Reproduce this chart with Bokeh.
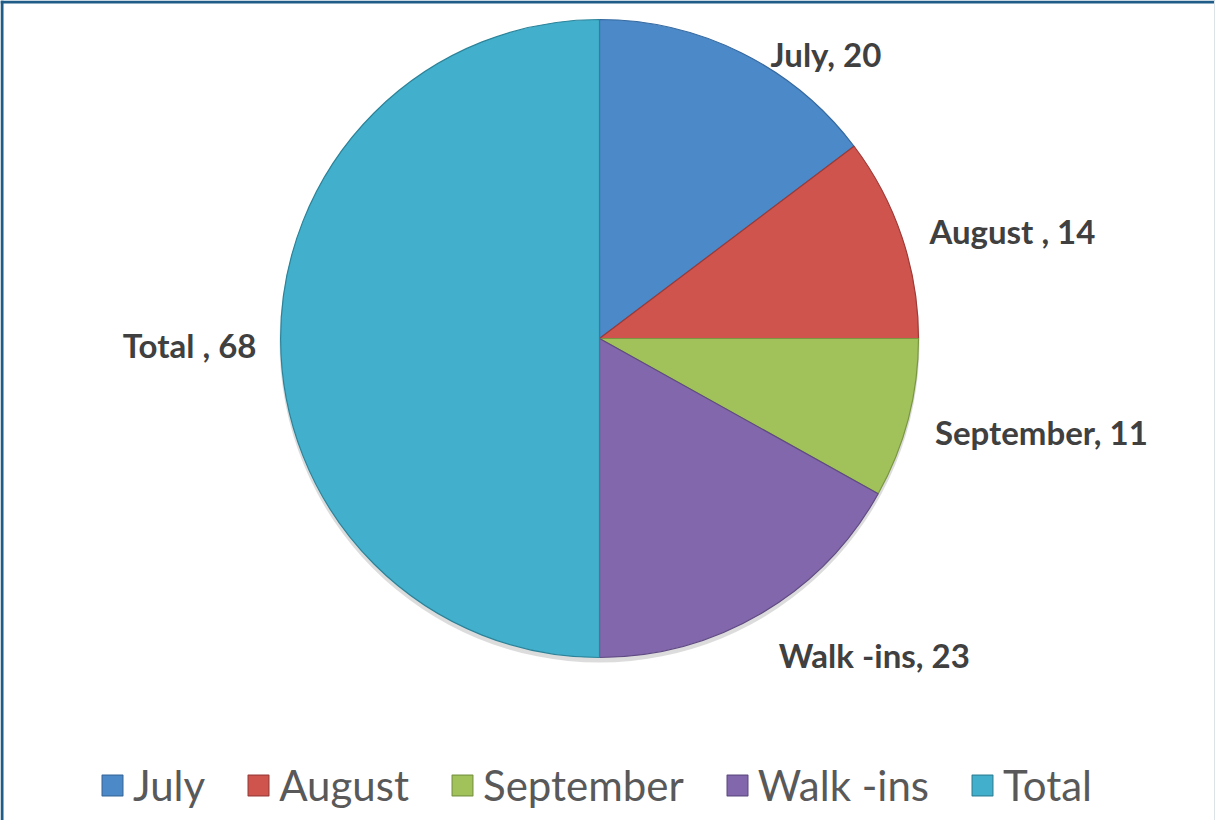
import numpy as np
from bokeh.plotting import figure
from bokeh.models import Range1d, Legend, LegendItem, Span, ColumnDataSource
from bokeh.core.properties import value
from bokeh.embed import file_html
from bokeh.resources import INLINE

# ---- data ----
categories = ["July", "August", "September", "Walk -ins", "Total"]
counts = [20, 14, 11, 23, 68]
label_texts = ["July, 20", "August , 14", "September, 11", "Walk -ins, 23", "Total , 68"]

# ---- styles ----
colors = ["#4C89C8", "#CF544E", "#A1C25B", "#8367AC", "#42B0CC"]
edge_colors = ["#35699F", "#9E3A36", "#7A9640", "#5F4A82", "#2C8399"]
lab_x_off = [24, 17, 16, 12, -13]
lab_y_off = [11, -3, 11, 32, 6]
lab_align = ["left", "left", "left", "left", "right"]

W, H = 1215, 820
p = figure(width=W, height=H, x_range=Range1d(0, W), y_range=Range1d(0, H),
           output_backend="svg", toolbar_location=None, min_border=0)
p.axis.visible = False
p.grid.visible = False
p.outline_line_color = None
p.background_fill_color = "white"
p.border_fill_color = "white"

cx, cy, R = 599, 482, 319
total = sum(counts)
cum = np.cumsum([0] + counts)
start = np.pi / 2 - 2 * np.pi * cum[:-1] / total
end = np.pi / 2 - 2 * np.pi * cum[1:] / total
mid = (start + end) / 2

# soft shadow
p.circle(x=[cx], y=[cy - 4], radius=R + 1, fill_color="#9A9A9A", fill_alpha=0.35, line_color=None)

src = ColumnDataSource(dict(cat=categories, val=counts, start=start, end=end,
                            color=colors, edge=edge_colors))
wr = p.wedge(x=cx, y=cy, radius=R, start_angle="start", end_angle="end", direction="clock",
             fill_color="color", line_color="edge", line_width=1.2, source=src)

lsrc = ColumnDataSource(dict(
    x=cx + (R + 11) * np.cos(mid), y=cy + (R + 11) * np.sin(mid),
    text=label_texts, xo=lab_x_off, yo=lab_y_off, align=lab_align))
p.text(x="x", y="y", text="text", x_offset="xo", y_offset="yo", text_align="align",
       text_baseline="middle", text_font=value("Lato"), text_font_style="bold",
       text_font_size="33px", text_color="#404040", source=lsrc)

items = [LegendItem(label=c, renderers=[wr], index=i) for i, c in enumerate(categories)]
legend = Legend(items=items, orientation="horizontal", location=(99, 10),
                glyph_width=26, glyph_height=26, label_text_font="Lato",
                label_text_font_size="42px", label_text_color="#595959",
                label_text_baseline="top",
                spacing=40, label_standoff=8, padding=0, margin=0,
                border_line_color=None, background_fill_alpha=0)
p.add_layout(legend)

p.add_layout(Span(location=H - 1.5, dimension="width", line_color="#1F5C87", line_width=3))
p.add_layout(Span(location=1.5, dimension="height", line_color="#1F5C87", line_width=3))
p.add_layout(Span(location=W - 1, dimension="height", line_color="#DCE3E6", line_width=1))

open("out.html", "w").write(file_html(p, INLINE))
